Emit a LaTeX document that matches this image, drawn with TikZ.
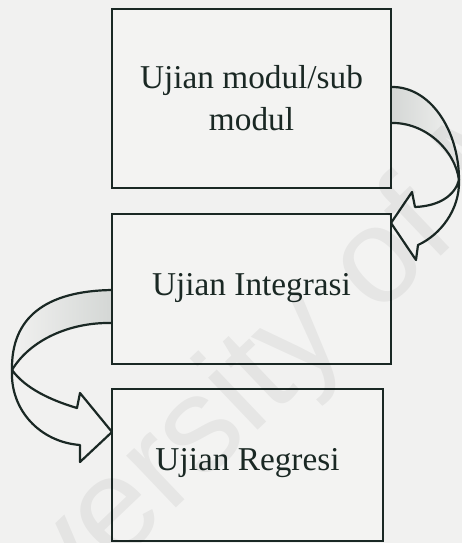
\documentclass[tikz,border=0pt]{standalone}
\usepackage{fontspec}
\setmainfont{Liberation Serif}
\newfontfamily\wmfont{Liberation Sans}
\usetikzlibrary{calc}
\definecolor{bg}{RGB}{241,241,240}
\definecolor{boxfill}{RGB}{243,243,242}
\definecolor{ink}{RGB}{26,40,36}
\definecolor{band}{RGB}{212,215,213}
\begin{document}
\begin{tikzpicture}[x=1pt,y=-1pt,
  box/.style={draw=ink, line width=2.6pt, fill=boxfill, inner sep=0pt},
  lab/.style={font=\fontsize{33.3}{42}\selectfont, text=ink, align=center, inner sep=0pt},
  arr/.style={draw=ink, line width=2.2pt, line join=round, line cap=round},
  wmark/.style={font=\wmfont\fontsize{136}{140}\selectfont, text=black, opacity=0.05, inner sep=0pt}]
\fill[bg] (0,0) rectangle (462,543);
\useasboundingbox (0,0) rectangle (462,543);

% right curved arrow (box 1 -> box 2)
\coordinate (ra1) at (391,87);
\coordinate (ra2) at (391,123);
\coordinate (rt) at (459,180);
\coordinate (rs1) at (415,207);
\coordinate (rb1) at (412,192);
\coordinate (rtip) at (391,223);
\coordinate (rb2) at (416,260);
\coordinate (rs2) at (418,245);
\shade[left color=band, right color=bg]
  (ra1) .. controls (430,86) and (459,130) .. (rt)
  .. controls (455,150) and (425,122) .. (ra2) -- cycle;
\draw[arr] (ra1) .. controls (430,86) and (459,130) .. (rt);
\draw[arr] (ra2) .. controls (425,122) and (455,150) .. (rt);
\filldraw[arr, fill=bg] (rt) .. controls (455,195) and (440,206) .. (rs1)
  -- (rb1) -- (rtip) -- (rb2) -- (rs2)
  .. controls (440,235) and (460,210) .. (rt) -- cycle;

% left curved arrow (box 2 -> box 3)
\coordinate (la1) at (112,290);
\coordinate (la2) at (112,323);
\coordinate (lt) at (12,370);
\coordinate (ls1) at (77,408);
\coordinate (lb1) at (80,393);
\coordinate (ltip) at (112,432);
\coordinate (lb2) at (80,462);
\coordinate (ls2) at (80,445);
\shade[left color=bg, right color=band]
  (la1) .. controls (45,291) and (11,318) .. (lt)
  .. controls (30,340) and (70,322) .. (la2) -- cycle;
\draw[arr] (la1) .. controls (45,291) and (11,318) .. (lt);
\draw[arr] (la2) .. controls (70,322) and (30,340) .. (lt);
\filldraw[arr, fill=bg] (lt) .. controls (25,388) and (50,400) .. (ls1)
  -- (lb1) -- (ltip) -- (lb2) -- (ls2)
  .. controls (40,442) and (10,410) .. (lt) -- cycle;

% boxes
\node[box, minimum width=279pt, minimum height=179pt] (b1) at (251.5,98.5) {};
\node[box, minimum width=279pt, minimum height=150pt] (b2) at (251.5,289) {};
\node[box, minimum width=271pt, minimum height=152pt] (b3) at (247.5,465) {};

% texts
\node[lab] (t1) at (b1.center) {Ujian modul/sub\\modul};
\node[lab, anchor=base] (t2) at ($(b2.center)+(0,6)$) {Ujian Integrasi};
\node[lab, anchor=base] (t3) at ($(b3.center)+(0,5)$) {Ujian Regresi};

% watermark
\node[wmark, rotate=43.6] (wm) at (337,307) {University of Malaya};
\end{tikzpicture}
\end{document}
